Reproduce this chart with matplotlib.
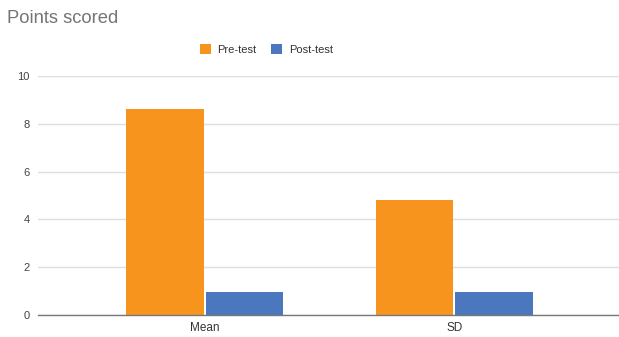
import matplotlib
matplotlib.use("Agg")
import matplotlib.pyplot as plt
import numpy as np
from matplotlib.patches import Patch

categories = ["Mean", "SD"]
pre_test = [8.62, 4.81]
post_test = [0.95, 0.95]
series_names = ["Pre-test", "Post-test"]
yticks = [0, 2, 4, 6, 8, 10]

plt.rcParams['font.family'] = ['Liberation Sans', 'DejaVu Sans']

fig = plt.figure(figsize=(6.19, 3.37), dpi=100)
ax = fig.add_axes([0.061, 0.0653, 0.939, 0.7092])

x = np.arange(len(categories))
w = 0.318
c_pre = "#F7941E"
c_post = "#4A77BE"
ax.bar(x - w / 2, pre_test, width=w - 0.008, color=c_pre, zorder=3)
ax.bar(x + w / 2, post_test, width=w - 0.008, color=c_post, zorder=3)

ax.set_xlim(-0.669, 1.66)
ax.set_ylim(0, 10)
ax.set_yticks(yticks)
ax.set_yticklabels([str(t) for t in yticks], fontsize=8, color="#444444")
ax.set_xticks(x)
ax.set_xticklabels(categories, fontsize=8.5, color="#333333")
ax.tick_params(axis="both", length=0)
ax.tick_params(axis="y", pad=6)
ax.tick_params(axis="x", pad=5)
ax.grid(axis="y", color="#dedede", linewidth=1, zorder=0)
for s in ["top", "right", "left"]:
    ax.spines[s].set_visible(False)
ax.spines["bottom"].set_color("#777777")
ax.spines["bottom"].set_linewidth(1)
ax.spines["bottom"].set_zorder(4)

fig.text(0.012, 0.945, "Points scored", fontsize=13.2, color="#757575", va="center", ha="left")

handles = [Patch(facecolor=c_pre, edgecolor="none"), Patch(facecolor=c_post, edgecolor="none")]
fig.legend(handles, series_names, loc="center", bbox_to_anchor=(0.43, 0.852), ncol=2,
           frameon=False, fontsize=8, handlelength=1.0, handleheight=1.0,
           handletextpad=0.6, columnspacing=1.3, labelcolor="#333333")

fig.savefig("out.png", dpi=100)
